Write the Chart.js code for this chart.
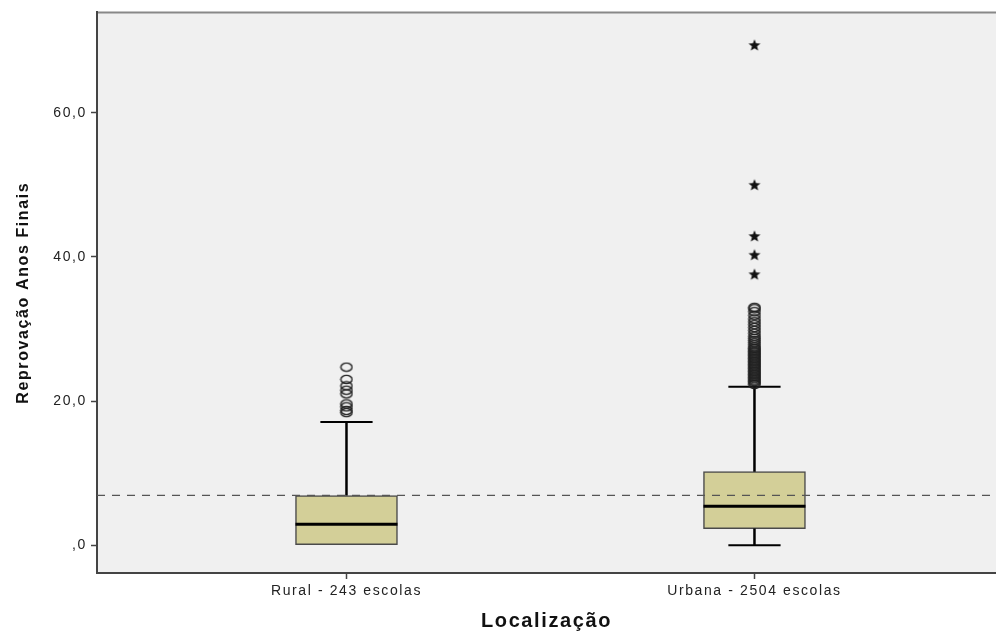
<!DOCTYPE html>
<html lang="pt-br">
<head>
  <meta charset="UTF-8">
  <title>Reprovação Anos Finais por Localização</title>
  <style>
    html, body { margin: 0; padding: 0; background: #ffffff; overflow: hidden; }
    .grafico { width: 996px; height: 633px; position: relative; }
    canvas { display: block; }
  </style>
</head>
<body>
  <div class="grafico">
    <canvas id="myChart"></canvas>
  </div>
<script src="https://cdn.jsdelivr.net/npm/chart.js"></script>
<script>
  const categorias = ['Rural - 243 escolas', 'Urbana - 2504 escolas'];
  const posicoes = [1, 2];
  const minimo = [0, 0];
  const quartil1 = [0, 2.3];
  const mediana = [2.9, 5.4];
  const quartil3 = [6.9, 10.2];
  const maximo = [17.1, 22.0];
  const outliersRural = [18.4, 18.7, 19.2, 19.6, 21.0, 21.5, 22.1, 23.0, 24.7];
  const outliersUrbana = [22.3, 22.5, 22.7, 22.9, 23.1, 23.3, 23.5, 23.7, 23.9, 24.1, 24.3, 24.5, 24.7,
    24.9, 25.1, 25.3, 25.5, 25.7, 25.9, 26.1, 26.3, 26.5, 26.7, 26.9, 27.1, 27.3, 27.5, 27.8, 28.1,
    28.4, 28.7, 29.0, 29.4, 29.8, 30.2, 30.6, 31.0, 31.4, 31.9, 32.4, 32.8, 33.0];
  const extremosUrbana = [37.6, 40.3, 42.9, 50.0, 69.4];
  const linhaReferencia = 6.9;
  const ticksY = [0, 20, 40, 60];

  // estilos
  const xMin = 0.3885, xMax = 2.592;
  const meiaCaixa = 0.125;   // metade da largura da caixa (unidades do eixo x)
  const meiaHaste = 0.064;   // metade da largura da haste

  // marcador elipse (outlier)
  const circulo = document.createElement('canvas');
  circulo.width = 14; circulo.height = 11;
  (function () {
    const c = circulo.getContext('2d');
    c.strokeStyle = '#222';
    c.lineWidth = 1.4;
    c.beginPath();
    c.ellipse(7, 5.5, 5.6, 4.1, 0, 0, Math.PI * 2);
    c.stroke();
  })();

  // marcador estrela (extremo)
  const estrela = document.createElement('canvas');
  estrela.width = 14; estrela.height = 14;
  (function () {
    const c = estrela.getContext('2d');
    c.fillStyle = '#111';
    c.beginPath();
    for (let i = 0; i < 10; i++) {
      const r = i % 2 === 0 ? 6.3 : 2.7;
      const a = -Math.PI / 2 + i * Math.PI / 5;
      const px = 7 + r * Math.cos(a), py = 7.5 + r * Math.sin(a);
      if (i === 0) c.moveTo(px, py); else c.lineTo(px, py);
    }
    c.closePath();
    c.fill();
  })();

  const datasets = [];

  // caixas (barras flutuantes)
  datasets.push({
    type: 'bar',
    data: posicoes.map((p, i) => ({ x: p, y: [quartil1[i], quartil3[i]] })),
    backgroundColor: '#d3cf98',
    borderColor: '#4a4a4a',
    borderWidth: 1.5,
    borderSkipped: false,
    barThickness: 102,
    order: 5
  });

  posicoes.forEach((p, i) => {
    const linha = (pts, largura) => ({
      type: 'line',
      data: pts,
      borderColor: '#000',
      borderWidth: largura,
      pointRadius: 0,
      showLine: true,
      fill: false,
      order: 4
    });
    // haste superior
    datasets.push(linha([{ x: p, y: quartil3[i] }, { x: p, y: maximo[i] }], 2.5));
    datasets.push(linha([{ x: p - meiaHaste, y: maximo[i] }, { x: p + meiaHaste, y: maximo[i] }], 2));
    // haste inferior
    if (minimo[i] < quartil1[i]) {
      datasets.push(linha([{ x: p, y: quartil1[i] }, { x: p, y: minimo[i] }], 2.5));
      datasets.push(linha([{ x: p - meiaHaste, y: minimo[i] }, { x: p + meiaHaste, y: minimo[i] }], 2));
    }
    // mediana
    const med = linha([{ x: p - meiaCaixa, y: mediana[i] }, { x: p + meiaCaixa, y: mediana[i] }], 3);
    med.order = 1;
    datasets.push(med);
  });

  // outliers
  datasets.push({
    type: 'scatter',
    data: outliersRural.map(v => ({ x: posicoes[0], y: v }))
      .concat(outliersUrbana.map(v => ({ x: posicoes[1], y: v }))),
    pointStyle: circulo,
    order: 2
  });
  datasets.push({
    type: 'scatter',
    data: extremosUrbana.map(v => ({ x: posicoes[1], y: v })),
    pointStyle: estrela,
    order: 2
  });

  // linha de referência tracejada
  datasets.push({
    type: 'line',
    data: [{ x: xMin, y: linhaReferencia }, { x: xMax, y: linhaReferencia }],
    borderColor: '#555',
    borderWidth: 1.3,
    borderDash: [8, 7],
    pointRadius: 0,
    fill: false,
    order: 0
  });

  const fundoPlot = {
    id: 'fundoPlot',
    beforeDraw(chart) {
      const { ctx, chartArea: a } = chart;
      ctx.save();
      ctx.fillStyle = '#f0f0f0';
      ctx.fillRect(a.left, a.top, a.right - a.left, a.bottom - a.top);
      ctx.strokeStyle = '#888';
      ctx.lineWidth = 2;
      ctx.beginPath();
      ctx.moveTo(a.left, a.top);
      ctx.lineTo(a.right, a.top);
      ctx.stroke();
      ctx.restore();
      ctx.letterSpacing = '1.6px';
    }
  };

  const ctx = document.getElementById('myChart').getContext('2d');
  new Chart(ctx, {
    type: 'scatter',
    data: { datasets: datasets },
    options: {
      responsive: true,
      maintainAspectRatio: false,
      animation: false,
      layout: { autoPadding: false, padding: { top: 9, right: 0, left: 0, bottom: 0 } },
      scales: {
        x: {
          type: 'linear',
          min: xMin,
          max: xMax,
          offset: false,
          afterBuildTicks: (s) => { s.ticks = posicoes.map(v => ({ value: v })); },
          afterFit: (s) => { s.height = 60; },
          ticks: {
            color: '#222',
            font: { family: 'Liberation Sans, Arial', size: 14 },
            padding: 4,
            maxRotation: 0,
            callback: (v) => categorias[posicoes.indexOf(v)] || ''
          },
          grid: { drawOnChartArea: false, offset: false, tickLength: 6, tickColor: '#444', tickWidth: 1.5 },
          border: { color: '#444', width: 2 },
          title: {
            display: true,
            text: 'Localização',
            color: '#111',
            font: { family: 'Liberation Sans, Arial', size: 20, weight: 'bold', lineHeight: 1.2 },
            padding: { top: 0, bottom: 0 }
          }
        },
        y: {
          type: 'linear',
          min: -3.86,
          max: 73.93,
          afterBuildTicks: (s) => { s.ticks = ticksY.map(v => ({ value: v })); },
          afterFit: (s) => { s.width = 97; },
          ticks: {
            color: '#222',
            font: { family: 'Liberation Sans, Arial', size: 14 },
            padding: 4,
            callback: (v) => v === 0 ? ',0' : v.toFixed(1).replace('.', ',')
          },
          grid: { drawOnChartArea: false, tickLength: 6, tickColor: '#444', tickWidth: 1.5 },
          border: { color: '#444', width: 2 },
          title: {
            display: true,
            text: 'Reprovação Anos Finais',
            color: '#111',
            font: { family: 'Liberation Sans, Arial', size: 16, weight: 'bold', lineHeight: 1.2 },
            padding: { top: 14, bottom: 0 }
          }
        }
      },
      plugins: {
        legend: { display: false },
        tooltip: { enabled: false }
      }
    },
    plugins: [fundoPlot]
  });
</script>
</body>
</html>
